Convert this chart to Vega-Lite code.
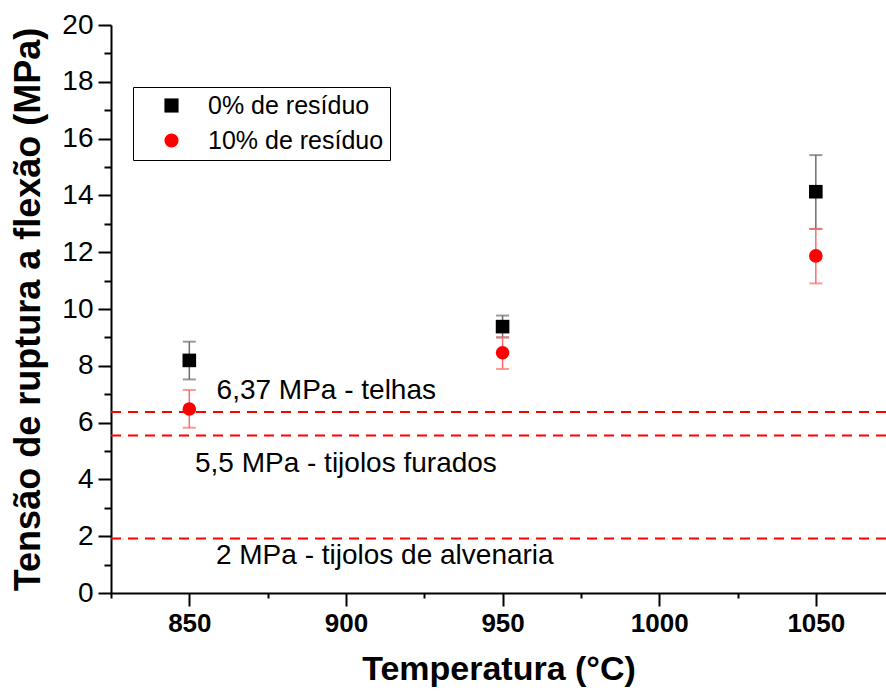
{
  "$schema": "https://vega.github.io/schema/vega-lite/v6.json",
  "autosize": {"type": "none"},
  "width": 775,
  "height": 568,
  "padding": {"left": 111, "top": 25, "right": 0, "bottom": 102},
  "background": "white",
  "config": {
    "view": {"stroke": null},
    "font": "Liberation Sans",
    "axis": {"grid": false, "domainColor": "black", "domainWidth": 2, "tickColor": "black", "tickWidth": 2, "labelColor": "black", "titleColor": "black", "labelFont": "Liberation Sans", "titleFont": "Liberation Sans"}
  },
  "datasets": {
    "main": [
      {"temp": 850, "serie": "0% de resíduo", "value": 8.19, "lo": 7.52, "hi": 8.85},
      {"temp": 950, "serie": "0% de resíduo", "value": 9.38, "lo": 9.0, "hi": 9.77},
      {"temp": 1050, "serie": "0% de resíduo", "value": 14.13, "lo": 12.82, "hi": 15.42},
      {"temp": 850, "serie": "10% de resíduo", "value": 6.48, "lo": 5.82, "hi": 7.15},
      {"temp": 950, "serie": "10% de resíduo", "value": 8.46, "lo": 7.89, "hi": 9.0},
      {"temp": 1050, "serie": "10% de resíduo", "value": 11.87, "lo": 10.9, "hi": 12.82}
    ],
    "refs": [
      {"level": 6.37},
      {"level": 5.55},
      {"level": 1.92}
    ],
    "labels": [
      {"x": 858.7, "y": 6.82, "text": "6,37 MPa - telhas"},
      {"x": 851.8, "y": 4.27, "text": "5,5 MPa - tijolos furados"},
      {"x": 858.5, "y": 1.02, "text": "2 MPa - tijolos de alvenaria"}
    ]
  },
  "encoding": {
    "x": {
      "field": "temp", "type": "quantitative",
      "scale": {"domain": [825, 1072.4], "nice": false, "zero": false},
      "axis": {
        "title": "Temperatura (°C)",
        "format": "d",
        "values": [825, 850, 875, 900, 925, 950, 975, 1000, 1025, 1050],
        "labelExpr": "datum.value % 50 === 0 ? datum.label : ''",
        "tickSize": {"condition": {"test": "datum.value % 50 === 0", "value": 13}, "value": 5},
        "labelFontSize": 26, "labelFontWeight": "bold", "labelPadding": 4,
        "labelFlush": false,
        "titleFontSize": 34, "titleFontWeight": "bold", "titlePadding": 16
      }
    },
    "y": {
      "field": "value", "type": "quantitative",
      "scale": {"domain": [0, 20], "nice": false},
      "axis": {
        "title": "Tensão de ruptura a flexão (MPa)",
        "values": [0,1,2,3,4,5,6,7,8,9,10,11,12,13,14,15,16,17,18,19,20],
        "labelExpr": "datum.value % 2 === 0 ? datum.label : ''",
        "tickSize": {"condition": {"test": "datum.value % 2 === 0", "value": 13}, "value": 7},
        "labelFontSize": 28, "labelPadding": 5, "labelFlush": false,
        "titleFontSize": 36, "titleFontWeight": "bold", "titlePadding": 14
      }
    }
  },
  "layer": [
    {
      "data": {"name": "refs"},
      "mark": {"type": "rule", "color": "#ff0000", "strokeWidth": 2, "strokeDash": [10, 7]},
      "encoding": {"x": null, "y": {"field": "level", "type": "quantitative"}}
    },
    {
      "data": {"name": "labels"},
      "mark": {"type": "text", "align": "left", "baseline": "alphabetic", "fontSize": 28, "font": "Liberation Sans", "color": "black"},
      "encoding": {
        "x": {"field": "x", "type": "quantitative"},
        "y": {"field": "y", "type": "quantitative"},
        "text": {"field": "text"}
      }
    },
    {
      "data": {"values": [{}]},
      "mark": {"type": "rule", "color": "black", "strokeWidth": 2},
      "encoding": {"x": null, "y": {"datum": 20}}
    },
    {
      "data": {"name": "main"},
      "mark": {"type": "rule", "strokeWidth": 1.5},
      "encoding": {
        "y": {"field": "lo", "type": "quantitative"},
        "y2": {"field": "hi"},
        "color": {"condition": {"test": "datum.serie === '0% de resíduo'", "value": "#6e6e6e"}, "value": "#ff6b6b"}
      }
    },
    {
      "data": {"name": "main"},
      "mark": {"type": "tick", "orient": "horizontal", "size": 13, "thickness": 2},
      "encoding": {
        "y": {"field": "lo", "type": "quantitative"},
        "color": {"condition": {"test": "datum.serie === '0% de resíduo'", "value": "#6e6e6e"}, "value": "#ff6b6b"}
      }
    },
    {
      "data": {"name": "main"},
      "mark": {"type": "tick", "orient": "horizontal", "size": 13, "thickness": 2},
      "encoding": {
        "y": {"field": "hi", "type": "quantitative"},
        "color": {"condition": {"test": "datum.serie === '0% de resíduo'", "value": "#6e6e6e"}, "value": "#ff6b6b"}
      }
    },
    {
      "data": {"name": "main"},
      "mark": {"type": "point", "filled": true, "opacity": 1, "size": 185},
      "encoding": {
        "color": {"field": "serie", "type": "nominal", "title": null,
          "scale": {"domain": ["0% de resíduo", "10% de resíduo"], "range": ["black", "#ff0000"]},
          "legend": {
            "orient": "none", "legendX": 22, "legendY": 62,
            "strokeColor": "black", "fillColor": "white",
            "padding": 6, "rowPadding": 9, "symbolSize": 200, "symbolStrokeWidth": 0, "symbolOpacity": 1,
            "labelFontSize": 25, "labelFont": "Liberation Sans", "labelColor": "black", "labelLimit": 400,
            "labelOffset": 24, "symbolOffset": 20
          }
        },
        "shape": {"field": "serie", "type": "nominal", "title": null, "scale": {"domain": ["0% de resíduo", "10% de resíduo"], "range": ["square", "circle"]}}
      }
    }
  ]
}
